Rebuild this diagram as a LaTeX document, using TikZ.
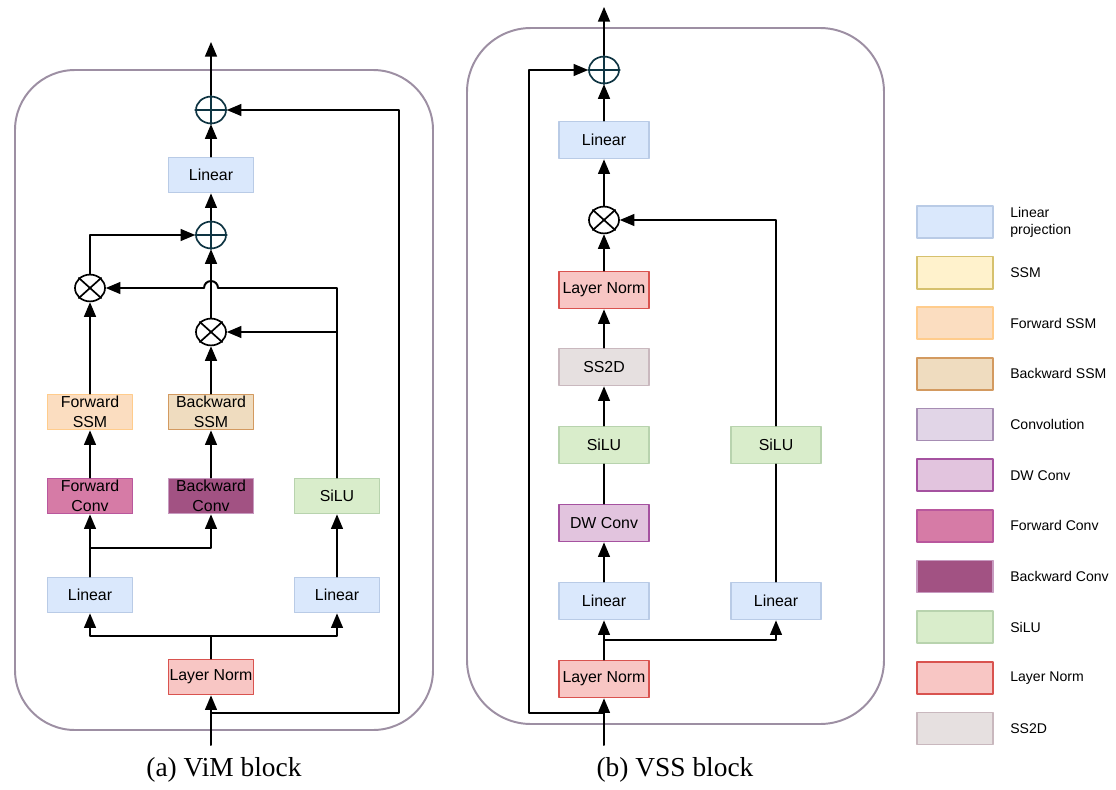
\documentclass[tikz,border=0pt]{standalone}
\usepackage{fontspec}
\setsansfont{Liberation Sans}
\setmainfont{Liberation Serif}
\usetikzlibrary{calc}
\usetikzlibrary{arrows}
\usetikzlibrary{shapes.geometric}

\definecolor{blockline}{HTML}{9D8FA3}
\definecolor{plusline}{HTML}{0E3442}
\definecolor{linfill}{HTML}{DAE8FC}\definecolor{linline}{HTML}{B9CBE6}
\definecolor{ssmfill}{HTML}{FFF2CC}\definecolor{ssmline}{HTML}{D6C16E}
\definecolor{fssmfill}{HTML}{FBDDC0}\definecolor{fssmline}{HTML}{FFCC8C}
\definecolor{bssmfill}{HTML}{EFDCBF}\definecolor{bssmline}{HTML}{D39A60}
\definecolor{convfill}{HTML}{E1D5E7}\definecolor{convline}{HTML}{A68DB3}
\definecolor{dwfill}{HTML}{E2C4DE}\definecolor{dwline}{HTML}{A552A0}
\definecolor{fconvfill}{HTML}{D67BA6}\definecolor{fconvline}{HTML}{B9579D}
\definecolor{bconvfill}{HTML}{A25283}\definecolor{bconvline}{HTML}{C79AC0}
\definecolor{silufill}{HTML}{D9EDCB}\definecolor{siluline}{HTML}{B8D3AE}
\definecolor{normfill}{HTML}{F8C6C4}\definecolor{normline}{HTML}{D9534F}
\definecolor{scanfill}{HTML}{E6E0E0}\definecolor{scanline}{HTML}{C9B8BE}

\begin{document}
\begin{tikzpicture}[x=0.025cm, y=-0.025cm, line cap = round, line join = round, >=triangle 45]
\tikzstyle{blk}=[draw=blockline, line width=1.4pt]
\tikzstyle{box}=[rectangle, draw, line width=1.3pt, minimum width=2.125cm, minimum height=0.875cm, inner sep=0pt, align=center, font=\sffamily\fontsize{11.3}{14}\selectfont]
\tikzstyle{wbox}=[box, minimum width=2.25cm, minimum height=0.925cm]
\tikzstyle{key}=[rectangle, draw, line width=1.2pt, minimum width=1.9cm, minimum height=0.8cm]
\tikzstyle{keytext}=[anchor=west, inner sep=0pt, align=left, font=\sffamily\fontsize{10}{12}\selectfont]
\tikzstyle{lin}=[fill=linfill, draw=linline]
\tikzstyle{ssm}=[fill=ssmfill, draw=ssmline]
\tikzstyle{fssm}=[fill=fssmfill, draw=fssmline]
\tikzstyle{bssm}=[fill=bssmfill, draw=bssmline]
\tikzstyle{conv}=[fill=convfill, draw=convline]
\tikzstyle{dw}=[fill=dwfill, draw=dwline]
\tikzstyle{fconv}=[fill=fconvfill, draw=fconvline]
\tikzstyle{bconv}=[fill=bconvfill, draw=bconvline]
\tikzstyle{silu}=[fill=silufill, draw=siluline]
\tikzstyle{norm}=[fill=normfill, draw=normline]
\tikzstyle{ss2d}=[fill=scanfill, draw=scanline]
\tikzstyle{plus}=[ellipse, draw=plusline, line width=1.2pt, minimum width=0.75cm, minimum height=0.67cm, inner sep=0pt]
\tikzstyle{times}=[plus, draw=black]
\tikzstyle{wire}=[line width=1.4pt]
\tikzstyle{caption}=[font=\rmfamily\fontsize{19.5}{22}\selectfont]

\useasboundingbox (0,0) rectangle (1116,789);

% outer blocks
\draw[blk, rounded corners=1.5cm] (15,70) rectangle (433,730);
\draw[blk, rounded corners=1.6cm] (467,28) rectangle (884,724);

% (a) ViM block
\node[plus] (vadd) at (211,110) {};
\node[box,lin] (vlin) at (211,175) {Linear};
\node[plus] (vsum) at (211,235) {};
\node[times] (vmulf) at (90,288) {};
\node[times] (vmulb) at (211,332) {};
\node[box,fssm] (vfssm) at (90,412) {Forward\\SSM};
\node[box,bssm] (vbssm) at (211,412) {Backward\\SSM};
\node[box,fconv] (vfconv) at (90,496) {Forward\\Conv};
\node[box,bconv] (vbconv) at (211,496) {Backward\\Conv};
\node[box,silu] (vsilu) at (337,496) {SiLU};
\node[box,lin] (vlinl) at (90,595) {Linear};
\node[box,lin] (vlinr) at (337,595) {Linear};
\node[box,norm] (vnorm) at (211,677) {Layer Norm};
\coordinate (vout) at (211,42);
\coordinate (vin) at (211,745);
\coordinate (vfork) at (211,636);
\coordinate (vsplit) at (90,548);
\coordinate (vskip) at (211,713);
\coordinate (vturn) at (399,713);
\coordinate (vhop) at (vmulb.north |- vmulf.east);

\draw[wire,->] (vadd.north) -- (vout);
\draw[wire,->] (vlin) -- (vadd);
\draw[wire,->] (vsum) -- (vlin);
\draw[wire,->] (vmulf.north) |- (vsum.west);
\draw[wire,->] (vmulb) -- (vsum);
\draw[wire,->] (vsilu.north) |- ($(vhop)+(7,0)$) arc[start angle=0, end angle=-180, radius=7] -- (vmulf.east);
\draw[wire,->] (vsilu.north |- vmulb) -- (vmulb.east);
\draw[wire,->] (vfssm) -- (vmulf);
\draw[wire,->] (vbssm) -- (vmulb);
\draw[wire,->] (vfconv) -- (vfssm);
\draw[wire,->] (vbconv) -- (vbssm);
\draw[wire,->] (vlinl) -- (vfconv);
\draw[wire,->] (vsplit) -| (vbconv.south);
\draw[wire,->] (vlinr) -- (vsilu);
\draw[wire] (vnorm) -- (vfork);
\draw[wire,->] (vfork) -| (vlinl.south);
\draw[wire,->] (vfork) -| (vlinr.south);
\draw[wire,->] (vin) -- (vnorm);
\draw[wire,->] (vskip) -- (vturn) |- (vadd.east);

\node[caption] (vcap) at (224,770) {(a) ViM block};

% (b) VSS block
\node[plus] (sadd) at (604,70) {};
\node[wbox,lin] (slin) at (604,140) {Linear};
\node[times] (smul) at (604,220) {};
\node[wbox,norm] (snormt) at (604,290) {Layer Norm};
\node[wbox,ss2d] (sscan) at (604,367) {SS2D};
\node[wbox,silu] (ssilul) at (604,445) {SiLU};
\node[wbox,dw] (sdw) at (604,523) {DW Conv};
\node[wbox,lin] (slinl) at (604,601) {Linear};
\node[wbox,norm] (snorm) at (604,679) {Layer Norm};
\node[wbox,silu] (ssilur) at (776,445) {SiLU};
\node[wbox,lin] (slinr) at (776,601) {Linear};
\coordinate (sout) at (604,7);
\coordinate (sin) at (604,745);
\coordinate (sfork) at (604,640);
\coordinate (sskip) at (604,713);
\coordinate (sturn) at (529,713);

\draw[wire,->] (sadd.north) -- (sout);
\draw[wire,->] (slin) -- (sadd);
\draw[wire,->] (smul) -- (slin);
\draw[wire,->] (snormt) -- (smul);
\draw[wire,->] (sscan) -- (snormt);
\draw[wire,->] (ssilul) -- (sscan);
\draw[wire] (sdw) -- (ssilul);
\draw[wire,->] (slinl) -- (sdw);
\draw[wire,->] (snorm) -- (slinl);
\draw[wire,->] (sfork) -| (slinr.south);
\draw[wire] (slinr) -- (ssilur);
\draw[wire,->] (ssilur.north) |- (smul.east);
\draw[wire,->] (sin) -- (snorm);
\draw[wire,->] (sskip) -- (sturn) |- (sadd.west);

\node[caption] (scap) at (675,770) {(b) VSS block};

% plus and times marks
\foreach \n in {vadd,vsum,sadd}
  \draw[plusline, line width=1.2pt] (\n.north) -- (\n.south) (\n.west) -- (\n.east);
\foreach \n in {vmulf,vmulb,smul}
  \draw[line width=1.2pt] (\n.north east) -- (\n.south west) (\n.north west) -- (\n.south east);

% legend
\foreach \st/\txt [count=\i from 0] in {lin/{Linear\\projection}, ssm/SSM, fssm/Forward SSM, bssm/Backward SSM, conv/Convolution, dw/DW Conv, fconv/Forward Conv, bconv/Backward Conv, silu/SiLU, norm/Layer Norm, ss2d/SS2D}
{
  \node[key,\st] (key\i) at (955,222+50.65*\i) {};
  \node[keytext] (lab\i) at (1010,222+50.65*\i) {\txt};
}
\end{tikzpicture}
\end{document}
